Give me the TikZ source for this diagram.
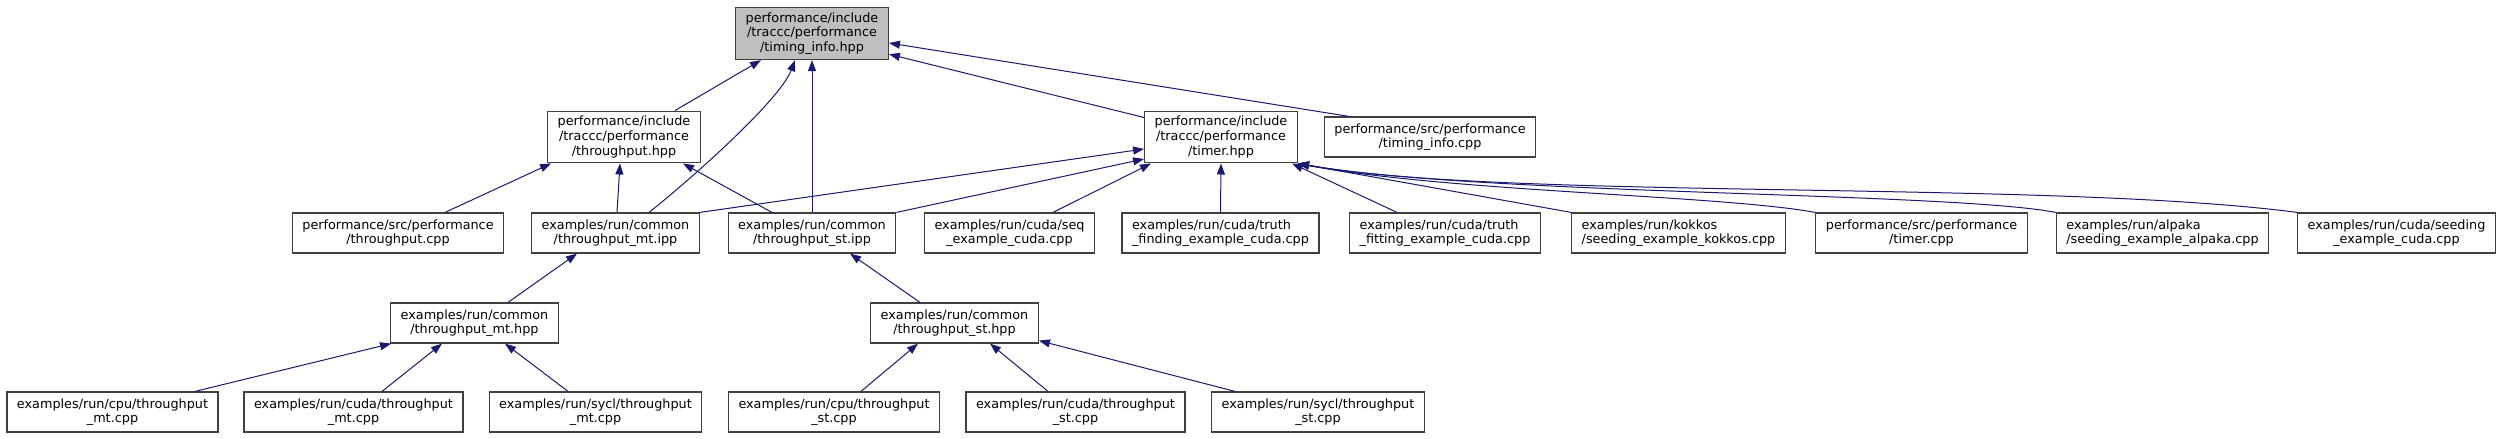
\documentclass[tikz,border=0pt]{standalone}
\usepackage{fontspec}
\setmainfont{DejaVu Sans}
\usepackage{tikz}
\usetikzlibrary{arrows.meta}
\definecolor{edgeblue}{RGB}{25,25,112}
\definecolor{boxgray}{RGB}{64,64,64}
\definecolor{curgray}{RGB}{191,191,191}

\begin{document}
\begin{tikzpicture}[
  x=1pt, y=-1pt,
  file/.style={
    draw=boxgray,
    line width=1.2pt,
    fill=white,
    font=\fontsize{12.8}{14.7}\selectfont,
    align=center,
    inner xsep=10pt,
    inner ysep=5pt,
    minimum height=40pt
  },
  current/.style={file,fill=curgray},
  lfile/.style={file,align=left},
  incl/.style={
    draw=edgeblue,
    line width=1pt,
    -{Triangle[length=11pt,width=8pt]}
  }
]
\useasboundingbox (0,0) rectangle (2503,439);

\node[current] (ti) at (812,33.5)
  {performance/include\\/traccc/performance\\/timing\_info.hpp};

\node[file] (tph) at (624,137)
  {performance/include\\/traccc/performance\\/throughput.hpp};
\node[file] (tmh) at (1221,137)
  {performance/include\\/traccc/performance\\/timer.hpp};
\node[file] (tic) at (1430,137)
  {performance/src/performance\\/timing\_info.cpp};

\node[file] (tpc) at (398,233)
  {performance/src/performance\\/throughput.cpp};
\node[file] (mtipp) at (615.5,233)
  {examples/run/common\\/throughput\_mt.ipp};
\node[file] (stipp) at (812,233)
  {examples/run/common\\/throughput\_st.ipp};
\node[file] (seq) at (1009.5,233)
  {examples/run/cuda/seq\\\_example\_cuda.cpp};
\node[lfile] (tfind) at (1220.5,233)
  {examples/run/cuda/truth\\\_finding\_example\_cuda.cpp};
\node[lfile] (tfit) at (1445,233)
  {examples/run/cuda/truth\\\_fitting\_example\_cuda.cpp};
\node[lfile] (kokkos) at (1678.5,233)
  {examples/run/kokkos\\/seeding\_example\_kokkos.cpp};
\node[file] (tmc) at (1921.5,233)
  {performance/src/performance\\/timer.cpp};
\node[lfile] (alpaka) at (2162.5,233)
  {examples/run/alpaka\\/seeding\_example\_alpaka.cpp};
\node[file] (cudaseed) at (2396.5,233)
  {examples/run/cuda/seeding\\\_example\_cuda.cpp};

\node[file] (mthpp) at (474.5,323)
  {examples/run/common\\/throughput\_mt.hpp};
\node[file] (sthpp) at (954.5,323)
  {examples/run/common\\/throughput\_st.hpp};

\node[file] (cpumt) at (112.5,412)
  {examples/run/cpu/throughput\\\_mt.cpp};
\node[file] (cudamt) at (353.5,412)
  {examples/run/cuda/throughput\\\_mt.cpp};
\node[file] (syclmt) at (595.5,412)
  {examples/run/sycl/throughput\\\_mt.cpp};
\node[file] (cpust) at (834,412)
  {examples/run/cpu/throughput\\\_st.cpp};
\node[file] (cudast) at (1075.5,412)
  {examples/run/cuda/throughput\\\_st.cpp};
\node[file] (syclst) at (1318,412)
  {examples/run/sycl/throughput\\\_st.cpp};

% includes of timing_info.hpp
\draw[incl] ([xshift=51pt]tph.north) -- ([xshift=-51pt]ti.south);
\draw[incl] ([xshift=33.5pt]mtipp.north)
  .. controls (690,180) and (780,100) .. ([xshift=-17pt]ti.south);
\draw[incl] (stipp.north) -- (ti.south);
\draw[incl] ([yshift=-7pt]tmh.north west) -- ([yshift=6pt]ti.south east);
\draw[incl] ([xshift=-81pt]tic.north) -- ([yshift=-9.5pt]ti.east);

% includes of throughput.hpp
\draw[incl] ([xshift=47pt]tpc.north) -- ([xshift=4pt]tph.south west);
\draw[incl] ([xshift=1.5pt]mtipp.north) -- ([xshift=-4pt]tph.south);
\draw[incl] ([xshift=-40pt]stipp.north) -- ([xshift=59pt]tph.south);

% includes of timer.hpp
\draw[incl] (mtipp.north east) -- ([yshift=-12pt]tmh.west);
\draw[incl] (stipp.north east) -- ([yshift=-22pt]tmh.west);
\draw[incl] ([xshift=43.5pt]seq.north) -- ([xshift=-70pt]tmh.south);
\draw[incl] (tfind.north) -- (tmh.south);
\draw[incl] ([xshift=-48pt]tfit.north) -- ([xshift=71pt]tmh.south);
\draw[incl] (kokkos.north west) -- (tmh.south east);
\draw[incl] (tmc.north west)
  .. controls (1720,195) and (1450,192) .. (tmh.south east);
\draw[incl] (alpaka.north west)
  .. controls (1950,192) and (1480,195) .. (tmh.south east);
\draw[incl] (cudaseed.north west)
  .. controls (2050,180) and (1500,200) .. (tmh.south east);

% second level
\draw[incl] ([xshift=33.5pt]mthpp.north) -- ([xshift=-38.5pt]mtipp.south);
\draw[incl] ([xshift=-34.5pt]sthpp.north) -- ([xshift=38pt]stipp.south);

\draw[incl] ([xshift=82.5pt]cpumt.north) -- ([xshift=1pt]mthpp.south west);
\draw[incl] ([xshift=28.5pt]cudamt.north) -- ([xshift=-32.5pt]mthpp.south);
\draw[incl] ([xshift=-27.5pt]syclmt.north) -- ([xshift=30.5pt]mthpp.south);

\draw[incl] ([xshift=27pt]cpust.north) -- ([xshift=-36.5pt]sthpp.south);
\draw[incl] ([xshift=-27.5pt]cudast.north) -- ([xshift=35.5pt]sthpp.south);
\draw[incl] ([xshift=-83pt]syclst.north) -- ([yshift=3pt]sthpp.south east);
\end{tikzpicture}
\end{document}
